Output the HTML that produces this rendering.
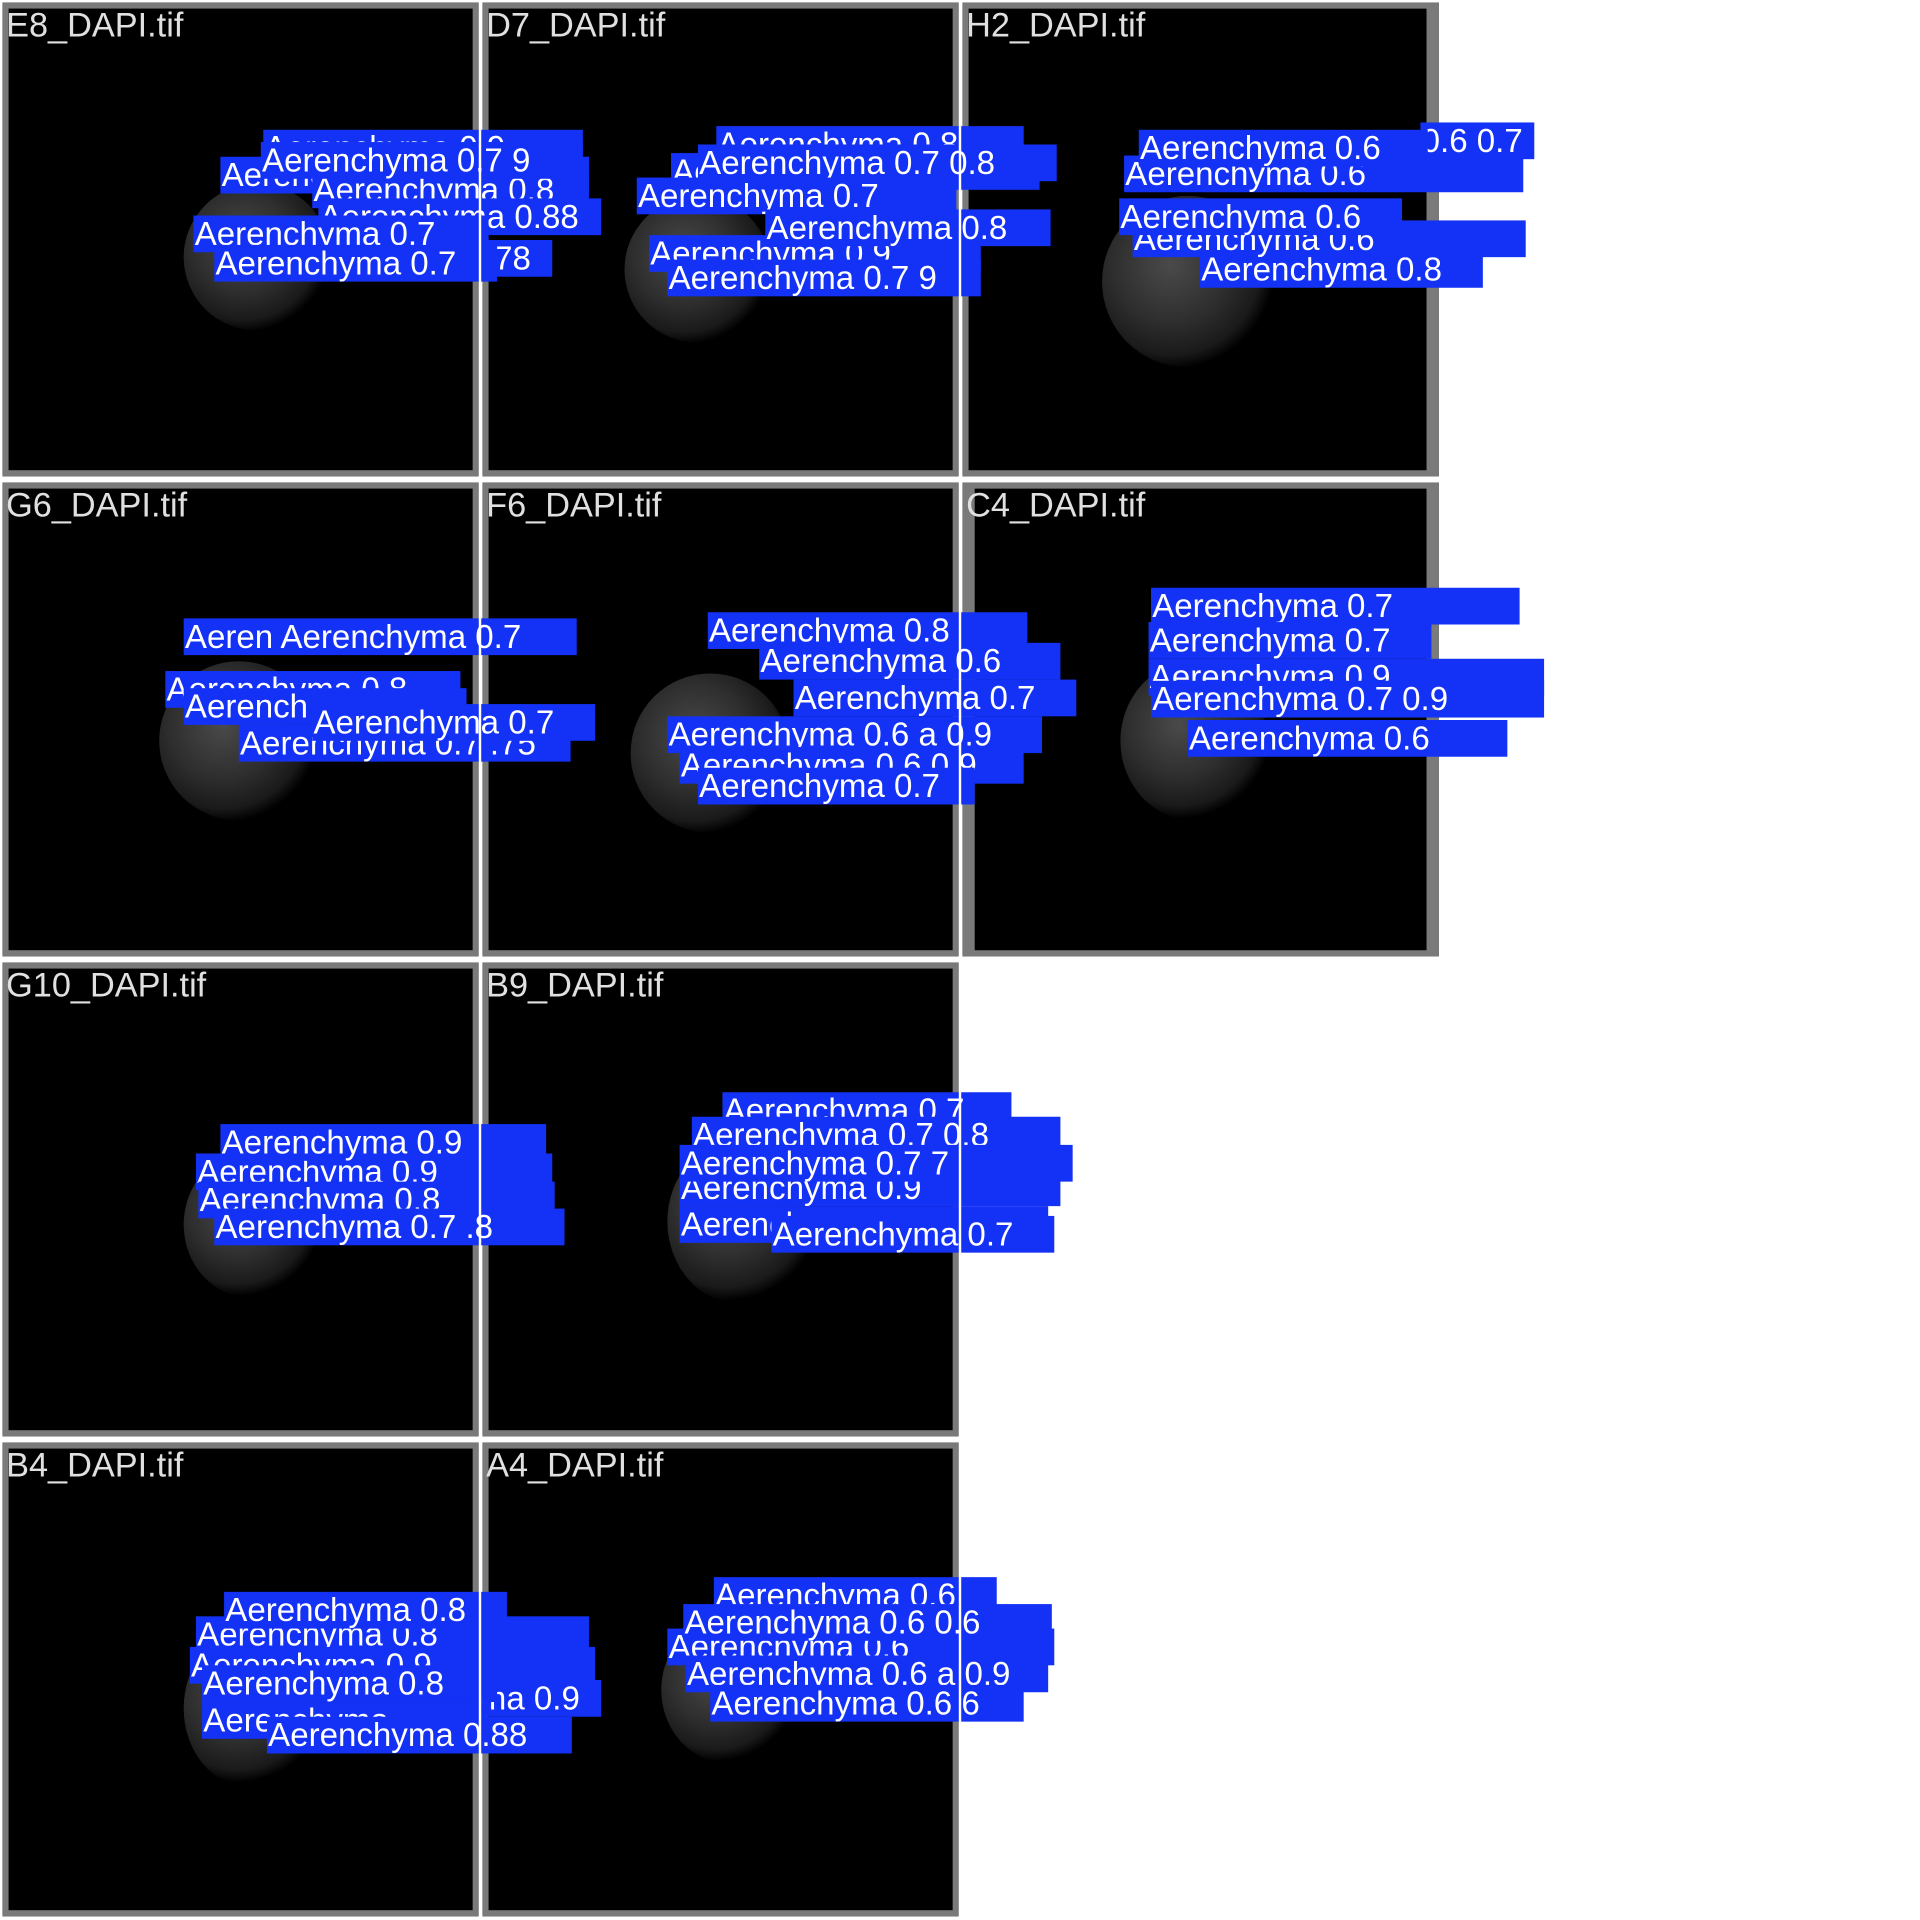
<!DOCTYPE html>
<html><head><meta charset="utf-8"><style>
html,body{margin:0;padding:0;background:#fff;width:1920px;height:1920px;overflow:hidden}
#w{position:absolute;left:0;top:0;width:1568px;height:1568px;transform:scale(1.22449);transform-origin:0 0;font-family:"Liberation Sans",Arial,sans-serif}
.t{position:absolute;width:379px;height:377px;background:#000;border:5px solid #7a7a7a;box-sizing:content-box}
.n{position:absolute;color:#e0e0e0;font-size:28px;line-height:30px;white-space:nowrap}
.c{position:absolute;border-radius:50%;background:radial-gradient(circle at 40% 40%,#4a4a4a 0%,#2e2e2e 40%,#1a1a1a 62%,#000 72%)}
.b{position:absolute;height:30px;background:#1432f5;color:#fff;font-size:27px;line-height:30px;white-space:nowrap;overflow:hidden;padding-left:1px}
.g{position:absolute;background:#fff}
</style></head><body><div id="w">
<div class="t" style="left:2px;top:2px"></div>
<div class="t" style="left:394px;top:2px"></div>
<div class="t" style="left:786px;top:2px;border-right-width:10px;width:374px"></div>
<div class="t" style="left:2px;top:394px"></div>
<div class="t" style="left:394px;top:394px"></div>
<div class="t" style="left:786px;top:394px;border-right-width:10px;border-left-width:10px;width:369px"></div>
<div class="t" style="left:2px;top:786px"></div>
<div class="t" style="left:394px;top:786px"></div>
<div class="t" style="left:2px;top:1178px"></div>
<div class="t" style="left:394px;top:1178px"></div>

<div class="c" style="left:150px;top:150px;width:120px;height:120px"></div>
<div class="c" style="left:510px;top:160px;width:120px;height:120px"></div>
<div class="c" style="left:900px;top:160px;width:140px;height:140px"></div>
<div class="c" style="left:130px;top:540px;width:130px;height:130px"></div>
<div class="c" style="left:515px;top:550px;width:130px;height:130px"></div>
<div class="c" style="left:915px;top:540px;width:120px;height:130px"></div>
<div class="c" style="left:150px;top:940px;width:110px;height:120px"></div>
<div class="c" style="left:545px;top:930px;width:120px;height:135px"></div>
<div class="c" style="left:150px;top:1330px;width:110px;height:130px"></div>
<div class="c" style="left:540px;top:1320px;width:110px;height:120px"></div>

<!-- E8 -->
<div class="b" style="left:215px;top:106px;width:260px">Aerenchyma 0.9</div>
<div class="b" style="left:180px;top:128px;width:300px">Aerenchyma 0.8</div>
<div class="b" style="left:255px;top:140px;width:225px">Aerenchyma 0.8</div>
<div class="b" style="left:260px;top:162px;width:230px">Aerenchyma 0.88</div>
<div class="b" style="left:158px;top:176px;width:240px">Aerenchyma 0.7</div>
<div class="b" style="left:395px;top:196px;width:55px">.78</div>
<div class="b" style="left:175px;top:200px;width:230px">Aerenchyma 0.7</div>
<div class="b" style="left:213px;top:116px;width:262px">Aerenchyma 0.7 9</div>
<!-- D7 -->
<div class="b" style="left:585px;top:103px;width:250px">Aerenchyma 0.8</div>
<div class="b" style="left:548px;top:125px;width:300px">Aerenchyma 0.9</div>
<div class="b" style="left:570px;top:118px;width:292px">Aerenchyma 0.7 0.8</div>
<div class="b" style="left:520px;top:145px;width:260px">Aerenchyma 0.7</div>
<div class="b" style="left:530px;top:192px;width:270px">Aerenchyma 0.9</div>
<div class="b" style="left:625px;top:171px;width:232px">Aerenchyma 0.8</div>
<div class="b" style="left:545px;top:212px;width:255px">Aerenchyma 0.7 9</div>
<!-- H2 -->
<div class="b" style="left:1160px;top:100px;width:92px">0.6 0.7</div>
<div class="b" style="left:918px;top:127px;width:325px">Aerenchyma 0.6</div>
<div class="b" style="left:930px;top:106px;width:235px">Aerenchyma 0.6</div>
<div class="b" style="left:980px;top:205px;width:230px">Aerenchyma 0.8</div>
<div class="b" style="left:925px;top:180px;width:320px">Aerenchyma 0.6</div>
<div class="b" style="left:914px;top:162px;width:230px">Aerenchyma 0.6</div>
<!-- G6 -->
<div class="b" style="left:150px;top:505px;width:320px">Aeren Aerenchyma 0.7</div>
<div class="b" style="left:135px;top:548px;width:240px">Aerenchyma 0.8</div>
<div class="b" style="left:150px;top:562px;width:230px">Aerench</div>
<div class="b" style="left:195px;top:592px;width:270px">Aerenchyma 0.7 .75</div>
<div class="b" style="left:255px;top:575px;width:230px">Aerenchyma 0.7</div>
<!-- F6 -->
<div class="b" style="left:578px;top:500px;width:260px">Aerenchyma 0.8</div>
<div class="b" style="left:620px;top:525px;width:245px">Aerenchyma 0.6</div>
<div class="b" style="left:648px;top:555px;width:230px">Aerenchyma 0.7</div>
<div class="b" style="left:545px;top:585px;width:305px">Aerenchyma 0.6 a 0.9</div>
<div class="b" style="left:555px;top:610px;width:280px">Aerenchyma 0.6 0.9</div>
<div class="b" style="left:570px;top:627px;width:225px">Aerenchyma 0.7</div>
<!-- C4 -->
<div class="b" style="left:940px;top:480px;width:300px">Aerenchyma 0.7</div>
<div class="b" style="left:938px;top:538px;width:322px">Aerenchyma 0.9</div>
<div class="b" style="left:938px;top:508px;width:230px">Aerenchyma 0.7</div>
<div class="b" style="left:940px;top:556px;width:320px">Aerenchyma 0.7 0.9</div>
<div class="b" style="left:970px;top:588px;width:260px">Aerenchyma 0.6</div>
<!-- G10 -->
<div class="b" style="left:160px;top:942px;width:290px">Aerenchyma 0.9</div>
<div class="b" style="left:162px;top:965px;width:290px">Aerenchyma 0.8</div>
<div class="b" style="left:180px;top:918px;width:265px">Aerenchyma 0.9</div>
<div class="b" style="left:175px;top:987px;width:285px">Aerenchyma 0.7 .8</div>
<!-- B9 -->
<div class="b" style="left:590px;top:892px;width:235px">Aerenchyma 0.7</div>
<div class="b" style="left:565px;top:912px;width:300px">Aerenchyma 0.7 0.8</div>
<div class="b" style="left:555px;top:955px;width:310px">Aerenchyma 0.9</div>
<div class="b" style="left:555px;top:935px;width:320px">Aerenchyma 0.7 7</div>
<div class="b" style="left:555px;top:985px;width:300px">Aerenchyma</div>
<div class="b" style="left:630px;top:993px;width:230px">Aerenchyma 0.7</div>
<!-- B4 -->
<div class="b" style="left:160px;top:1320px;width:320px">Aerenchyma 0.8</div>
<div class="b" style="left:155px;top:1345px;width:330px">Aerenchyma 0.9</div>
<div class="b" style="left:183px;top:1300px;width:230px">Aerenchyma 0.8</div>
<div class="b" style="left:390px;top:1372px;width:100px">ma 0.9</div>
<div class="b" style="left:165px;top:1360px;width:240px">Aerenchyma 0.8</div>
<div class="b" style="left:165px;top:1390px;width:230px">Aerenchyma</div>
<div class="b" style="left:218px;top:1402px;width:248px">Aerenchyma 0.88</div>
<!-- A4 -->
<div class="b" style="left:583px;top:1288px;width:230px">Aerenchyma 0.6</div>
<div class="b" style="left:545px;top:1330px;width:315px">Aerenchyma 0.6</div>
<div class="b" style="left:558px;top:1310px;width:300px">Aerenchyma 0.6 0.6</div>
<div class="b" style="left:560px;top:1352px;width:295px">Aerenchyma 0.6 a 0.9</div>
<div class="b" style="left:580px;top:1376px;width:255px">Aerenchyma 0.6 6</div>

<div class="g" style="left:391px;top:0;width:2px;height:1568px"></div>
<div class="g" style="left:783px;top:0;width:2px;height:1568px"></div>
<div class="g" style="left:0;top:391px;width:1568px;height:2px"></div>
<div class="g" style="left:0;top:783px;width:1568px;height:2px"></div>
<div class="g" style="left:0;top:1175px;width:1568px;height:2px"></div>

<div class="n" style="left:5px;top:6px">E8_DAPI.tif</div>
<div class="n" style="left:397px;top:6px">D7_DAPI.tif</div>
<div class="n" style="left:789px;top:6px">H2_DAPI.tif</div>
<div class="n" style="left:5px;top:398px">G6_DAPI.tif</div>
<div class="n" style="left:397px;top:398px">F6_DAPI.tif</div>
<div class="n" style="left:789px;top:398px">C4_DAPI.tif</div>
<div class="n" style="left:5px;top:790px">G10_DAPI.tif</div>
<div class="n" style="left:397px;top:790px">B9_DAPI.tif</div>
<div class="n" style="left:5px;top:1182px">B4_DAPI.tif</div>
<div class="n" style="left:397px;top:1182px">A4_DAPI.tif</div>
</div></body></html>
